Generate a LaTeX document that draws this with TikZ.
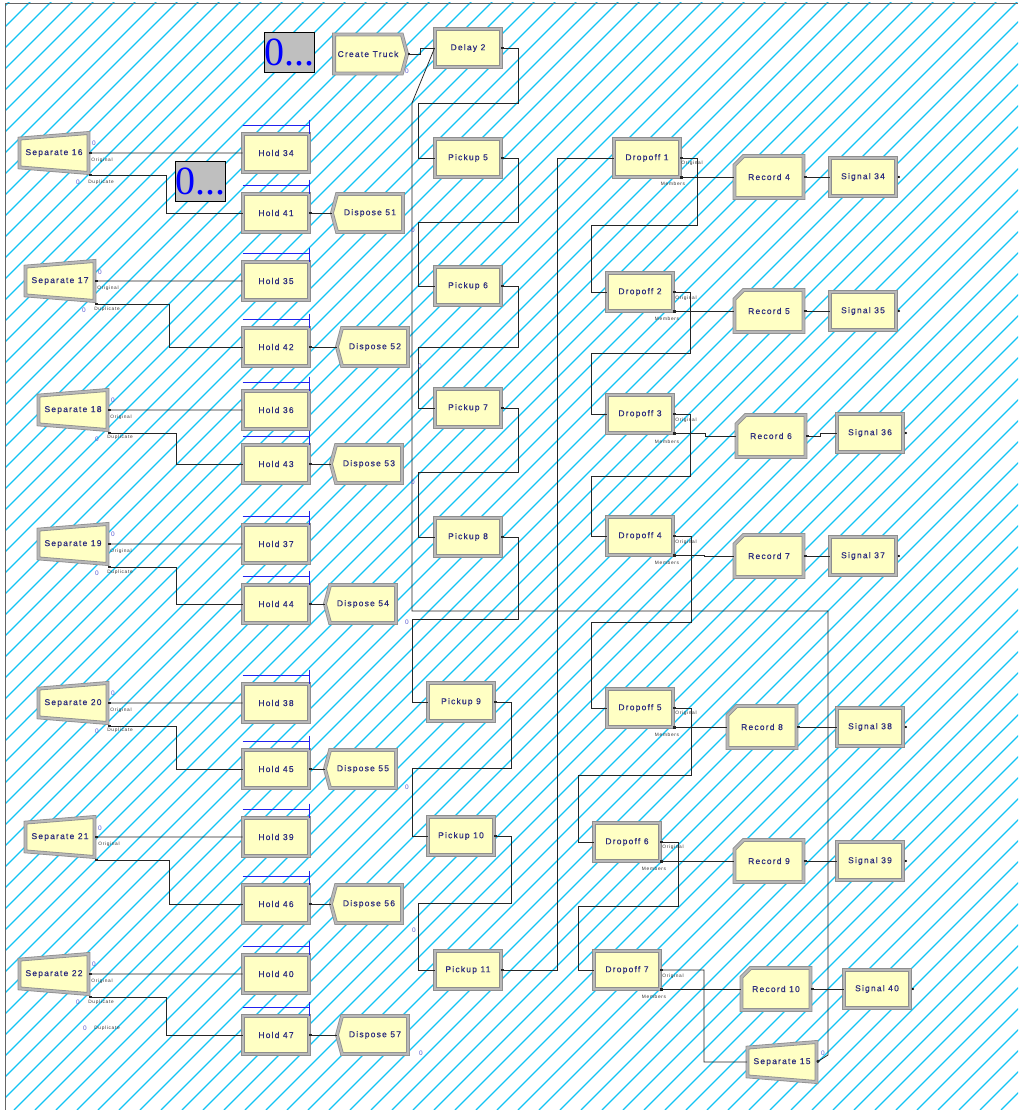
\documentclass[tikz,border=0pt]{standalone}
\usepackage{fontspec}
\setmainfont{Liberation Sans}
\newfontfamily\arenafont[LetterSpace=14,FakeBold=0.5]{Liberation Sans}
\newfontfamily\tinyfont[LetterSpace=14]{Liberation Sans}
\newfontfamily\varfont{Liberation Serif}
\usetikzlibrary{calc,arrows.meta,shapes.geometric,shapes.symbols,shapes.misc}
\definecolor{arenaYellow}{HTML}{FFFFC4}
\definecolor{arenaEdge}{HTML}{8E8E8E}
\definecolor{arenaBevel}{HTML}{B8B8B8}
\definecolor{arenaText}{HTML}{2B2B7E}
\definecolor{arenaHatch}{HTML}{12C4F4}
\definecolor{arenaCount}{HTML}{5A5AD2}
\definecolor{arenaQueue}{HTML}{2222EE}

\begin{document}
\begin{tikzpicture}[
  x=1pt, y=-1pt,
  blk/.style={draw=arenaEdge, double=arenaBevel, double distance=2.2pt, line width=0.8pt,
              fill=arenaYellow, text=arenaText, inner sep=0pt,
              font=\arenafont\fontsize{8.5}{10}\selectfont,
              minimum width=66pt, minimum height=38pt},
  sep/.style={blk, trapezium, shape border rotate=90, trapezium angle=88.5,
              trapezium stretches=true, minimum width=40pt, minimum height=69pt},
  crt/.style={blk, signal, signal to=east, signal from=nowhere, signal pointer angle=150,
              minimum width=73pt, minimum height=39pt},
  dsp/.style={blk, signal, signal to=west, signal from=nowhere, signal pointer angle=150,
              minimum width=71pt, minimum height=38pt},
  rec/.style={blk, chamfered rectangle, chamfered rectangle corners=north west,
              chamfered rectangle sep=6pt, minimum width=69pt, minimum height=42pt},
  var/.style={draw=black, fill=gray!50, line width=0.7pt, inner sep=0pt,
              minimum width=47pt, minimum height=40pt, text=blue,
              font=\varfont\fontsize{40}{40}\selectfont},
  cn/.style={draw=black!85, line width=0.75pt, {Square[length=2.4pt,width=2.4pt]}-},
  lbl/.style={font=\tinyfont\fontsize{4.8}{5}\selectfont, text=black!80, inner sep=0pt},
  cnt/.style={font=\fontsize{6.5}{7}\selectfont, text=arenaCount, inner sep=0pt},
  qbar/.style={draw=arenaQueue, line width=0.9pt},
  hatch/.style={draw=arenaHatch, line width=1.2pt},
  frame/.style={draw=black!60, line width=0.9pt}
]
\useasboundingbox (0,0) rectangle (1018,1110);
\fill[white] (0,0) rectangle (1018,1110);

% hatched sheet
\begin{scope}
  \clip (5,3) rectangle (1018,1110);
  \foreach \a in {-1120,-1099,...,1030}
    \draw[hatch] (\a,1110) -- ++(1110,-1110);
\end{scope}
\draw[frame] (1018,3) -- (5,3) -- (5,1110);

% variables and truck source
\node[var] (var1) at (289,52) {0...};
\node[var] (var2) at (200,181) {0...};
\node[crt] (ct) at (368,54) {Create Truck};

% truck route
\node[blk] (dl2)  at (468,48)  {Delay 2};
\node[blk] (pk5)  at (468,158) {Pickup 5};
\node[blk] (pk6)  at (468,286) {Pickup 6};
\node[blk] (pk7)  at (468,408) {Pickup 7};
\node[blk] (pk8)  at (468,537) {Pickup 8};
\node[blk] (pk9)  at (461,702) {Pickup 9};
\node[blk] (pk10) at (461,836) {Pickup 10};
\node[blk] (pk11) at (468,970) {Pickup 11};

\node[blk] (do1) at (647,158) {Dropoff 1};
\node[blk] (do2) at (640,292) {Dropoff 2};
\node[blk] (do3) at (640,414) {Dropoff 3};
\node[blk] (do4) at (640,536) {Dropoff 4};
\node[blk] (do5) at (640,708) {Dropoff 5};
\node[blk] (do6) at (627,842) {Dropoff 6};
\node[blk] (do7) at (627,970) {Dropoff 7};

\node[rec] (rc4)  at (769,177) {Record 4};
\node[rec] (rc5)  at (769,311) {Record 5};
\node[rec] (rc6)  at (771,436) {Record 6};
\node[rec] (rc7)  at (769,556) {Record 7};
\node[rec] (rc8)  at (762,727) {Record 8};
\node[rec] (rc9)  at (769,861) {Record 9};
\node[rec] (rc10) at (776,989) {Record 10};

\node[blk] (sg34) at (863,177) {Signal 34};
\node[blk] (sg35) at (863,311) {Signal 35};
\node[blk] (sg36) at (870,433) {Signal 36};
\node[blk] (sg37) at (863,556) {Signal 37};
\node[blk] (sg38) at (870,727) {Signal 38};
\node[blk] (sg39) at (870,861) {Signal 39};
\node[blk] (sg40) at (877,989) {Signal 40};

\node[sep] (sp15) at (782,1062) {Separate 15};

% passengers waiting
\node[sep] (sp16) at (54,153)  {Separate 16};
\node[sep] (sp17) at (60,281)  {Separate 17};
\node[sep] (sp18) at (73,410)  {Separate 18};
\node[sep] (sp19) at (73,544)  {Separate 19};
\node[sep] (sp20) at (73,703)  {Separate 20};
\node[sep] (sp21) at (60,837)  {Separate 21};
\node[sep] (sp22) at (54,974)  {Separate 22};

\node[blk] (hd34) at (276,153)  {Hold 34};
\node[blk] (hd41) at (276,213)  {Hold 41};
\node[blk] (hd35) at (276,281)  {Hold 35};
\node[blk] (hd42) at (276,347)  {Hold 42};
\node[blk] (hd36) at (276,410)  {Hold 36};
\node[blk] (hd43) at (276,464)  {Hold 43};
\node[blk] (hd37) at (276,544)  {Hold 37};
\node[blk] (hd44) at (276,604)  {Hold 44};
\node[blk] (hd38) at (276,703)  {Hold 38};
\node[blk] (hd45) at (276,769)  {Hold 45};
\node[blk] (hd39) at (276,837)  {Hold 39};
\node[blk] (hd46) at (276,904)  {Hold 46};
\node[blk] (hd40) at (276,974)  {Hold 40};
\node[blk] (hd47) at (276,1035) {Hold 47};

\node[dsp] (dp51) at (370,213)  {Dispose 51};
\node[dsp] (dp52) at (375,347)  {Dispose 52};
\node[dsp] (dp53) at (369,464)  {Dispose 53};
\node[dsp] (dp54) at (363,604)  {Dispose 54};
\node[dsp] (dp55) at (363,769)  {Dispose 55};
\node[dsp] (dp56) at (369,904)  {Dispose 56};
\node[dsp] (dp57) at (375,1035) {Dispose 57};

% hold queues
\foreach \h in {hd34,hd41,hd35,hd42,hd36,hd43,hd37,hd44,hd38,hd45,hd39,hd46,hd40,hd47}
  \draw[qbar] ([yshift=8pt]\h.north west) -- ([yshift=8pt]\h.north east)
              ([yshift=14pt]\h.north east) -- (\h.north east);
% unconnected signal exits
\foreach \s in {sg34,sg35,sg36,sg37,sg38,sg39,sg40}
  \fill ([xshift=2.5pt]\s.east) circle (1.2pt);

% truck loop
\draw[cn] (ct.east) -| (420,48) -- (dl2.west);
\draw[cn] (dl2.east) -| (518,103) -| (418,158) -- (pk5.west);
\draw[cn] (pk5.east) -| (518,222) -| (418,286) -- (pk6.west);
\draw[cn] (pk6.east) -| (518,347) -| (418,408) -- (pk7.west);
\draw[cn] (pk7.east) -| (518,472) -| (418,537) -- (pk8.west);
\draw[cn] (pk8.east) -| (518,619) -| (412,702) -- (pk9.west);
\draw[cn] (pk9.east) -| (511,768) -| (412,836) -- (pk10.west);
\draw[cn] (pk10.east) -| (511,903) -| (418,970) -- (pk11.west);
\draw[cn] (pk11.east) -| (557,158) -- (do1.west);
\draw[cn] (do1.east) -| (697,225) -| (591,292) -- (do2.west);
\draw[cn] (do2.east) -| (690,353) -| (591,414) -- (do3.west);
\draw[cn] (do3.east) -| (690,476) -| (591,536) -- (do4.west);
\draw[cn] (do4.east) -| (691,622) -| (591,708) -- (do5.west);
\draw[cn] (do5.east) -| (691,775) -| (578,842) -- (do6.west);
\draw[cn] (do6.east) -| (678,906) -| (578,970) -- (do7.west);
\draw[cn] (do7.east) -| (704,1062) -- (sp15.west);
\draw[cn] (sp15.east) -- (828,1055) -- (828,611) -- (412,611) -- (412,103) -- (dl2.west);

% members to records
\draw[cn] (do1.south east) -- ++(28,0) |- (rc4.west);
\draw[cn] (do2.south east) -- ++(28,0) |- (rc5.west);
\draw[cn] (do3.south east) -- ++(32,0) |- (rc6.west);
\draw[cn] (do4.south east) -- ++(31,0) |- (rc7.west);
\draw[cn] (do5.south east) -- ++(28,0) |- (rc8.west);
\draw[cn] (do6.south east) -- ++(38,0) |- (rc9.west);
\draw[cn] (do7.south east) -- ++(41,0) |- (rc10.west);
\draw[cn] (rc4.east) -- (sg34.west);
\draw[cn] (rc5.east) -- (sg35.west);
\draw[cn] (rc6.east) -- ++(14,0) |- (sg36.west);
\draw[cn] (rc7.east) -- (sg37.west);
\draw[cn] (rc8.east) -- (sg38.west);
\draw[cn] (rc9.east) -- (sg39.west);
\draw[cn] (rc10.east) -- (sg40.west);

% separate to hold to dispose
\draw[cn] (sp16.east) -- (hd34.west);
\draw[cn] ([yshift=-22pt]sp16.east) -| (166,213) -- (hd41.west);
\draw[cn] (hd41.east) -- (dp51.west);
\draw[cn] (sp17.east) -- (hd35.west);
\draw[cn] ([yshift=-23pt]sp17.east) -| (169,347) -- (hd42.west);
\draw[cn] (hd42.east) -- (dp52.west);
\draw[cn] (sp18.east) -- (hd36.west);
\draw[cn] ([yshift=-23pt]sp18.east) -| (176,464) -- (hd43.west);
\draw[cn] (hd43.east) -- (dp53.west);
\draw[cn] (sp19.east) -- (hd37.west);
\draw[cn] ([yshift=-23pt]sp19.east) -| (176,604) -- (hd44.west);
\draw[cn] (hd44.east) -- (dp54.west);
\draw[cn] (sp20.east) -- (hd38.west);
\draw[cn] ([yshift=-23pt]sp20.east) -| (176,769) -- (hd45.west);
\draw[cn] (hd45.east) -- (dp55.west);
\draw[cn] (sp21.east) -- (hd39.west);
\draw[cn] ([yshift=-23pt]sp21.east) -| (169,904) -- (hd46.west);
\draw[cn] (hd46.east) -- (dp56.west);
\draw[cn] (sp22.east) -- (hd40.west);
\draw[cn] ([yshift=-23pt]sp22.east) -| (166,1035) -- (hd47.west);
\draw[cn] (hd47.east) -- (dp57.west);

% exit point labels
\node[lbl] (lo16) at (102,160) {Original};
\node[lbl] (ld16) at (101,182) {Duplicate};
\node[lbl] (lo17) at (108,288) {Original};
\node[lbl] (ld17) at (107,309) {Duplicate};
\node[lbl] (lo18) at (121,417) {Original};
\node[lbl] (ld18) at (120,437) {Duplicate};
\node[lbl] (lo19) at (121,551) {Original};
\node[lbl] (ld19) at (120,572) {Duplicate};
\node[lbl] (lo20) at (121,710) {Original};
\node[lbl] (ld20) at (120,730) {Duplicate};
\node[lbl] (lo21) at (109,844) {Original};
\node[lbl] (lo22) at (102,981) {Original};
\node[lbl] (ld22) at (101,1002) {Duplicate};
\node[lbl] (ldx)  at (107,1028) {Duplicate};
\node[lbl] (lod1) at (692,163) {Original};
\node[lbl] (lmd1) at (673,184) {Members};
\node[lbl] (lod2) at (686,298) {Original};
\node[lbl] (lmd2) at (667,319) {Members};
\node[lbl] (lod3) at (686,420) {Original};
\node[lbl] (lmd3) at (667,442) {Members};
\node[lbl] (lod4) at (686,542) {Original};
\node[lbl] (lmd4) at (667,563) {Members};
\node[lbl] (lod5) at (686,713) {Original};
\node[lbl] (lmd5) at (667,735) {Members};
\node[lbl] (lod6) at (673,847) {Original};
\node[lbl] (lmd6) at (654,869) {Members};
\node[lbl] (lod7) at (673,976) {Original};
\node[lbl] (lmd7) at (654,997) {Members};

% counters
\node[cnt] (cct)  at (407,71)  {0};
\node[cnt] (c16a) at (94,143)  {0};
\node[cnt] (c16b) at (78,182)  {0};
\node[cnt] (c51)  at (413,230) {0};
\node[cnt] (c17a) at (100,272) {0};
\node[cnt] (c17b) at (84,310)  {0};
\node[cnt] (c52)  at (420,366) {0};
\node[cnt] (c18a) at (113,400) {0};
\node[cnt] (c18b) at (97,439)  {0};
\node[cnt] (c53)  at (413,482) {0};
\node[cnt] (c19a) at (113,534) {0};
\node[cnt] (c19b) at (97,573)  {0};
\node[cnt] (c54)  at (407,622) {0};
\node[cnt] (c20a) at (113,693) {0};
\node[cnt] (c20b) at (97,731)  {0};
\node[cnt] (c55)  at (407,787) {0};
\node[cnt] (c21a) at (100,828) {0};
\node[cnt] (c56)  at (414,930) {0};
\node[cnt] (c22a) at (94,964)  {0};
\node[cnt] (c22b) at (78,1002) {0};
\node[cnt] (cx)   at (85,1028) {0};
\node[cnt] (c57)  at (421,1053) {0};
\node[cnt] (c15)  at (823,1053) {0};
\end{tikzpicture}
\end{document}
